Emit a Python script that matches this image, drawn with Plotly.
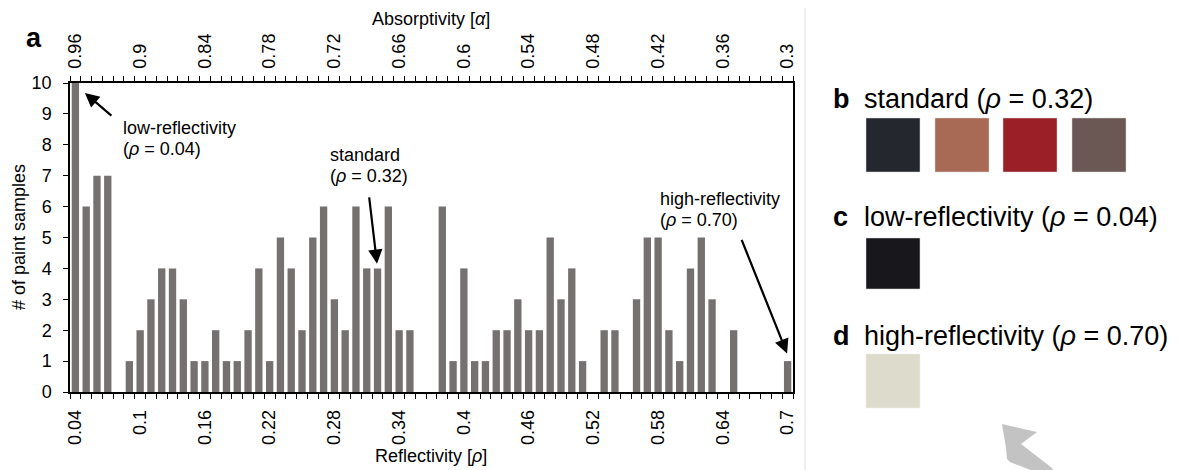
import plotly.graph_objects as go

# ---- data ----
reflectivity = [0.04, 0.05, 0.06, 0.07, 0.08, 0.09, 0.10, 0.11, 0.12, 0.13,
                0.14, 0.15, 0.16, 0.17, 0.18, 0.19, 0.20, 0.21, 0.22, 0.23,
                0.24, 0.25, 0.26, 0.27, 0.28, 0.29, 0.30, 0.31, 0.32, 0.33,
                0.34, 0.35, 0.36, 0.37, 0.38, 0.39, 0.40, 0.41, 0.42, 0.43,
                0.44, 0.45, 0.46, 0.47, 0.48, 0.49, 0.50, 0.51, 0.52, 0.53,
                0.54, 0.55, 0.56, 0.57, 0.58, 0.59, 0.60, 0.61, 0.62, 0.63,
                0.64, 0.65, 0.66, 0.67, 0.68, 0.69, 0.70]
counts = [10, 6, 7, 7, 0, 1, 2, 3, 4, 4,
          3, 1, 1, 2, 1, 1, 2, 4, 1, 5,
          4, 2, 5, 6, 3, 2, 6, 4, 4, 6,
          2, 2, 0, 0, 6, 1, 4, 1, 1, 2,
          2, 3, 2, 2, 5, 3, 4, 1, 0, 2,
          2, 0, 3, 5, 5, 2, 1, 4, 5, 3,
          0, 2, 0, 0, 0, 0, 1]
bottom_tick_vals = [0.04, 0.10, 0.16, 0.22, 0.28, 0.34, 0.40, 0.46, 0.52, 0.58, 0.64, 0.70]
bottom_tick_text = ["0.04", "0.1", "0.16", "0.22", "0.28", "0.34", "0.4", "0.46", "0.52", "0.58", "0.64", "0.7"]
top_tick_text = ["0.96", "0.9", "0.84", "0.78", "0.72", "0.66", "0.6", "0.54", "0.48", "0.42", "0.36", "0.3"]
y_ticks = [0, 1, 2, 3, 4, 5, 6, 7, 8, 9, 10]

swatch_b = ["#25272e", "#a86a55", "#9a1f26", "#6b5753"]
swatch_c = ["#18171c"]
swatch_d = ["#dddbcc"]

FONT = "Liberation Sans, Arial, sans-serif"
BAR = "#767171"

W, H = 1187, 470
L, R, T, B = 70, 793, 83, 392


def px(x):
    return (x - L) / (R - L)


def py(y):
    return (B - y) / (B - T)


fig = go.Figure()
fig.add_trace(go.Bar(x=reflectivity, y=counts, width=0.0068,
                     marker=dict(color=BAR, line=dict(width=0)),
                     showlegend=False, hoverinfo="x+y"))
# invisible trace to carry the top (absorptivity) axis
fig.add_trace(go.Scatter(x=reflectivity, y=counts, xaxis="x2", mode="markers",
                         marker=dict(opacity=0), showlegend=False, hoverinfo="skip"))

xr = [0.035, 0.705]
common_x = dict(range=xr, showgrid=False, zeroline=False, showline=True,
                linecolor="black", linewidth=1.5, tickmode="array",
                tickvals=bottom_tick_vals, ticks="outside", ticklen=0,
                tickangle=-90, tickfont=dict(family=FONT, size=18, color="black"),
                ticklabelstandoff=9,
                minor=dict(tick0=0.035, dtick=0.01, ticks="outside", ticklen=5,
                           tickcolor="black", tickwidth=1, showgrid=False))

fig.update_layout(
    width=W, height=H,
    margin=dict(l=L, r=W - R, t=T, b=H - B),
    paper_bgcolor="white", plot_bgcolor="white",
    bargap=0.3,
    xaxis=dict(ticktext=bottom_tick_text, side="bottom", **common_x),
    xaxis2=dict(ticktext=top_tick_text, side="top", overlaying="x",
                matches=None, **common_x),
    yaxis=dict(range=[0, 10], tickmode="array", tickvals=y_ticks,
               showgrid=False, zeroline=False, showline=True, mirror=True,
               linecolor="black", linewidth=1.5, ticks="outside", ticklen=5,
               tickcolor="black", ticklabelstandoff=8,
               tickfont=dict(family=FONT, size=18, color="black")),
    font=dict(family=FONT, size=18, color="black"),
)

ann = []


def text(x, y, s, size=18, xanchor="left", angle=0):
    ann.append(dict(x=px(x), y=py(y), xref="paper", yref="paper", text=s,
                    showarrow=False, xanchor=xanchor, yanchor="middle",
                    textangle=angle,
                    font=dict(family=FONT, size=size, color="black")))


# axis titles and panel label
text(431, 19, "Absorptivity [<i>α</i>]", xanchor="center")
text(431, 456, "Reflectivity [<i>ρ</i>]", xanchor="center")
text(19, 237, "# of paint samples", xanchor="center", angle=-90)
text(24, 38, "<b>a</b>", size=27)

# chart annotations
text(121, 128, "low-reflectivity")
text(121, 149, "(<i>ρ</i> = 0.04)")
text(328, 155, "standard")
text(328, 176, "(<i>ρ</i> = 0.32)")
text(658, 199, "high-reflectivity")
text(658, 220, "(<i>ρ</i> = 0.70)")

arrows = [
    (0.0488, 9.68, 28, 24),
    (0.3195, 4.15, -8, -68),
    (0.6995, 1.25, -46, -115),
]
for (ax_x, ax_y, dx, dy) in arrows:
    ann.append(dict(x=ax_x, y=ax_y, xref="x", yref="y", text="",
                    showarrow=True, ax=dx, ay=dy, arrowhead=2,
                    arrowsize=1.3, arrowwidth=2.2, arrowcolor="black"))

# right panels
text(831, 99, "<b>b</b>", size=27)
text(862, 99, "standard (<i>ρ</i> = 0.32)", size=27)
text(831, 217, "<b>c</b>", size=27)
text(862, 217, "low-reflectivity (<i>ρ</i> = 0.04)", size=27)
text(831, 336, "<b>d</b>", size=27)
text(862, 336, "high-reflectivity (<i>ρ</i> = 0.70)", size=27)

fig.update_layout(annotations=ann)

shapes = []
# separator line
shapes.append(dict(type="line", xref="paper", yref="paper",
                   x0=px(805), x1=px(805), y0=py(8), y1=py(470),
                   line=dict(color="#ebebeb", width=1.5)))

# swatches
sw_x = [866, 935, 1003, 1072]
for i, c in enumerate(swatch_b):
    shapes.append(dict(type="rect", xref="paper", yref="paper",
                       x0=px(sw_x[i]), x1=px(sw_x[i] + 54), y0=py(118), y1=py(172),
                       fillcolor=c, line=dict(color="#d8d8d8", width=0.5)))
for c in swatch_c:
    shapes.append(dict(type="rect", xref="paper", yref="paper",
                       x0=px(866), x1=px(920), y0=py(238), y1=py(289),
                       fillcolor=c, line=dict(color="#d8d8d8", width=0.5)))
for c in swatch_d:
    shapes.append(dict(type="rect", xref="paper", yref="paper",
                       x0=px(866), x1=px(920), y0=py(354), y1=py(408),
                       fillcolor=c, line=dict(color="#eeeeee", width=0.5)))

# gray cursor-like arrow at bottom right
pts = [(1002, 424), (1037, 432), (1021, 444), (1052, 468), (1054, 471),
       (1033, 471), (1010, 462), (1007, 459), (1006, 448), (1004, 436)]
path = "M " + " L ".join(f"{px(x):.5f},{py(y):.5f}" for x, y in pts) + " Z"
shapes.append(dict(type="path", xref="paper", yref="paper", path=path,
                   fillcolor="#c3c3c3", line=dict(width=0)))

fig.update_layout(shapes=shapes)

fig.write_html("out.html")
